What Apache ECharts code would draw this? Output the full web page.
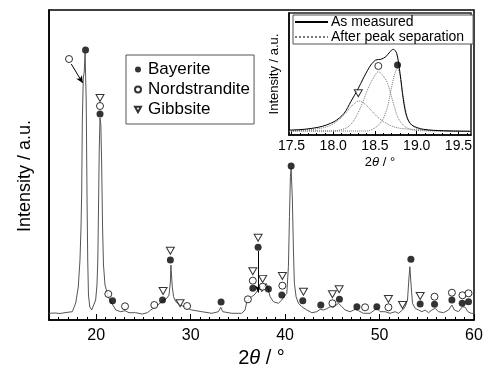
<!DOCTYPE html>
<html><head><meta charset="utf-8">
<script src="https://cdn.jsdelivr.net/npm/echarts@6/dist/echarts.min.js"></script>
<style>html,body{margin:0;padding:0;background:#fff}#c{width:500px;height:378px}</style>
</head><body><div id="c"></div>
<script>
// ---- main XRD pattern: [2theta, intensity (a.u.)]
const xrdPattern = [[15.00,67],[15.64,70],[16.17,65],[16.80,75],[17.22,80],[17.47,83],[17.83,170],[18.10,330],[18.28,600],[18.39,930],[18.46,1270],[18.53,2000],[18.63,2420],[18.73,2480],[18.82,2670],[18.94,2200],[19.03,1200],[19.10,600],[19.18,250],[19.32,130],[19.52,100],[19.71,120],[19.94,200],[20.08,350],[20.17,600],[20.24,1100],[20.32,1700],[20.40,2020],[20.49,1950],[20.57,1600],[20.67,930],[20.77,550],[20.93,350],[21.28,230],[21.64,170],[22.07,100],[22.60,83],[23.05,93],[23.47,73],[24.18,73],[24.88,60],[25.41,73],[25.77,100],[26.30,133],[26.94,183],[27.47,217],[27.71,250],[27.85,380],[27.91,550],[28.05,333],[28.19,233],[28.42,183],[28.88,150],[29.41,130],[30.12,100],[31.18,83],[32.24,67],[32.94,83],[33.19,127],[33.40,83],[34.35,67],[35.41,67],[35.76,100],[35.94,183],[36.22,217],[36.47,233],[36.72,250],[36.82,267],[36.98,280],[37.06,290],[37.16,270],[37.35,333],[37.51,280],[37.70,300],[37.99,367],[38.15,330],[38.41,233],[38.76,183],[39.29,167],[39.65,200],[39.89,233],[40.18,267],[40.35,533],[40.46,1033],[40.56,1433],[40.64,1517],[40.77,1200],[40.88,700],[40.98,367],[41.16,233],[41.41,167],[41.77,133],[42.30,100],[42.83,73],[43.36,83],[43.71,107],[44.06,100],[44.42,113],[44.77,133],[45.12,127],[45.65,167],[46.01,133],[46.36,100],[46.89,83],[47.42,107],[47.77,93],[48.29,67],[49.00,67],[49.71,117],[50.06,83],[50.59,83],[51.12,67],[51.65,83],[52.00,67],[52.43,100],[52.71,133],[52.96,200],[53.10,400],[53.21,533],[53.27,550],[53.35,333],[53.49,167],[53.77,117],[54.12,100],[54.48,83],[54.83,100],[55.18,73],[55.54,100],[55.89,117],[56.24,83],[56.77,73],[57.30,100],[57.66,150],[57.93,100],[58.36,83],[58.78,133],[59.07,127],[59.35,83],[59.70,67],[60.00,65]];

// ---- phase markers: [2theta, marker height]
const bayerite = [[18.87,2700],[20.40,2060],[21.73,193],[27.02,200],[27.85,600],[33.22,180],[36.58,317],[37.14,727],[38.23,310],[39.65,250],[40.64,1540],[41.87,193],[43.78,150],[45.75,207],[47.60,133],[49.71,133],[53.32,607],[54.30,160],[55.82,157],[57.66,200],[58.75,167],[59.42,183]];
const nordstrandite = [[17.12,2610],[20.40,2140],[21.28,260],[23.05,137],[26.15,150],[29.62,140],[36.06,207],[36.58,393],[37.62,333],[39.71,343],[45.01,167],[48.47,127],[50.94,127],[55.82,233],[57.66,273],[58.78,247],[59.42,267]];
const gibbsite = [[20.40,2220],[27.08,290],[27.85,692],[28.88,167],[36.58,487],[37.14,822],[37.62,411],[39.71,440],[41.94,283],[45.01,257],[45.72,307],[50.94,210],[52.43,150],[54.30,240]];
const pointerArrows = [[[17.36,2560],[18.57,2370]],[[37.14,690],[37.14,275]]];

// ---- inset (peak separation)
const insetMeasured = [[17.47,5],[17.50,5],[17.82,7.7],[18.01,13.3],[18.13,21.7],[18.21,33.3],[18.29,45],[18.37,58.3],[18.45,70],[18.51,75],[18.57,75.7],[18.63,78.3],[18.68,83.3],[18.72,85.7],[18.76,81.7],[18.80,61.7],[18.84,35],[18.88,18.3],[18.94,10],[19.08,5.7],[19.32,4.3],[19.65,3.7]];
const gibbsiteFit = [[17.47,4],[17.80,6],[17.95,9],[18.05,14],[18.15,22],[18.22,29],[18.31,34],[18.38,31],[18.45,25],[18.53,18],[18.61,13],[18.70,9],[18.80,6.7],[19.08,5],[19.35,4],[19.65,3.7]];
const nordstranditeFit = [[17.47,4],[18.00,4],[18.17,7.7],[18.25,15],[18.33,28],[18.41,45],[18.48,57],[18.54,63.3],[18.60,59],[18.65,51.7],[18.72,31.7],[18.78,16.7],[18.86,8.3],[18.99,4.5],[19.65,3.7]];
const bayeriteFit = [[17.47,4],[18.40,4],[18.51,7.7],[18.59,15],[18.65,28.3],[18.70,48.3],[18.74,62],[18.77,66.7],[18.80,60],[18.82,48.3],[18.86,28.3],[18.91,13.3],[19.00,6.7],[19.20,4.3],[19.65,3.7]];
const insetBayerite = [[18.77,70]];
const insetNordstrandite = [[18.54,69]];
const insetGibbsite = [[18.30,41.7]];

const mainTickLabels = [20,30,40,50,60];
const insetTickLabels = [17.5,18.0,18.5,19.0,19.5];
const insetMinorTicks = [17.5,17.6,17.7,17.8,17.9,18.0,18.1,18.2,18.3,18.4,18.5,18.6,18.7,18.8,18.9,19.0,19.1,19.2,19.3,19.4,19.5,19.6];

const FONT = 'Liberation Sans, Arial, sans-serif';
const DOWN_TRI = 'path://M0,0L10,0L5,9Z';
const chart = echarts.init(document.getElementById('c'), null, {renderer:'canvas'});

const filled = {color:'#000'};
const open = {color:'#fff', borderColor:'#000', borderWidth:1};

chart.setOption({
  animation:false,
  backgroundColor:'#fff',
  grid:[
    {left:49, top:10, width:425, height:310, show:true, borderColor:'#000', borderWidth:1.5, backgroundColor:'transparent'},
    {left:289, top:13, width:182, height:122, show:true, borderColor:'#222', borderWidth:1.5, backgroundColor:'#fff'}
  ],
  xAxis:[
    {gridIndex:0, type:'value', min:15, max:60, position:'bottom',
     axisLine:{show:true, onZero:false, lineStyle:{color:'#000', width:1.5}},
     axisTick:{show:true, inside:true, length:6, customValues:mainTickLabels, lineStyle:{color:'#000'}},
     axisLabel:{show:true, customValues:mainTickLabels, margin:8, color:'#000', fontSize:16, fontFamily:FONT},
     splitLine:{show:false},
     name:'{n|2}{i|θ}{n| / °}', nameLocation:'middle', nameGap:24,
     nameTextStyle:{rich:{n:{fontSize:20, fontFamily:FONT, color:'#000'}, i:{fontSize:20, fontFamily:FONT, fontStyle:'italic', color:'#000'}}}},
    {gridIndex:0, type:'value', min:15, max:60, interval:1, position:'bottom',
     axisLine:{show:false}, axisLabel:{show:false}, splitLine:{show:false},
     axisTick:{show:true, inside:true, length:3, lineStyle:{color:'#000'}}},
    {gridIndex:1, type:'value', min:17.47, max:19.65, position:'bottom',
     axisLine:{show:true, onZero:false, lineStyle:{color:'#000', width:1.5}},
     axisTick:{show:true, inside:true, length:4, customValues:insetTickLabels, lineStyle:{color:'#000'}},
     axisLabel:{show:true, customValues:insetTickLabels, margin:4, color:'#000', fontSize:14, fontFamily:FONT,
       formatter:v=>v.toFixed(1)},
     splitLine:{show:false},
     name:'{n|2}{i|θ}{n| / °}', nameLocation:'middle', nameGap:21,
     nameTextStyle:{rich:{n:{fontSize:13, fontFamily:FONT, color:'#000'}, i:{fontSize:13, fontFamily:FONT, fontStyle:'italic', color:'#000'}}}},
    {gridIndex:1, type:'value', min:17.47, max:19.65, position:'bottom',
     axisLine:{show:false}, axisLabel:{show:false}, splitLine:{show:false},
     axisTick:{show:true, inside:true, length:2, customValues:insetMinorTicks, lineStyle:{color:'#000'}}}
  ],
  yAxis:[
    {gridIndex:0, type:'value', min:0, max:3100,
     axisLine:{show:true, onZero:false, lineStyle:{color:'#000', width:1.5}},
     axisTick:{show:false}, axisLabel:{show:false}, splitLine:{show:false}},
    {gridIndex:1, type:'value', min:0, max:122,
     axisLine:{show:true, onZero:false, lineStyle:{color:'#000', width:1.5}},
     axisTick:{show:false}, axisLabel:{show:false}, splitLine:{show:false},
     name:'Intensity / a.u.', nameLocation:'middle', nameGap:8,
     nameTextStyle:{fontSize:13, fontFamily:FONT, color:'#000'}}
  ],
  legend:[
    {left:126, top:55, orient:'vertical', itemWidth:6, itemHeight:6, itemGap:3,
     padding:[6,4,6,8], borderColor:'#555', borderWidth:1, backgroundColor:'#fff',
     textStyle:{fontSize:17, fontFamily:FONT, color:'#000', padding:[0,0,0,2]},
     data:['Bayerite','Nordstrandite','Gibbsite']},
    {left:293, top:15, orient:'vertical', itemWidth:33, itemHeight:10, itemGap:1,
     padding:[0,9,0,1], borderColor:'#555', borderWidth:1, backgroundColor:'#fff',
     itemStyle:{color:'transparent', borderColor:'transparent', borderWidth:0},
     textStyle:{fontSize:14, fontFamily:FONT, color:'#000', padding:[0,0,0,-2]},
     data:['As measured','After peak separation']}
  ],
  graphic:[
    {type:'text', x:25, y:176, rotation:Math.PI/2,
     style:{text:'Intensity / a.u.', font:'18px '+FONT, fill:'#000', textAlign:'center', textVerticalAlign:'middle'}}
  ],
  series:[
    {name:'pattern', type:'line', xAxisIndex:0, yAxisIndex:0, data:xrdPattern, symbol:'none',
     color:'#555', lineStyle:{color:'#555', width:1}, z:2,
     markLine:{silent:true, symbol:['none','arrow'], symbolSize:[5,7], label:{show:false},
       lineStyle:{color:'#000', width:1, type:'solid'},
       data:pointerArrows.map(a=>[{coord:a[0]},{coord:a[1]}])}},
    {name:'Bayerite', type:'scatter', xAxisIndex:0, yAxisIndex:0, data:bayerite, symbol:'circle', symbolSize:7, itemStyle:filled, z:5},
    {name:'Nordstrandite', type:'scatter', xAxisIndex:0, yAxisIndex:0, data:nordstrandite, symbol:'circle', symbolSize:7, itemStyle:open, z:5},
    {name:'Gibbsite', type:'scatter', xAxisIndex:0, yAxisIndex:0, data:gibbsite, symbol:DOWN_TRI, symbolSize:[8,7], itemStyle:open, z:5},
    {name:'As measured', type:'line', xAxisIndex:2, yAxisIndex:1, data:insetMeasured, symbol:'none', smooth:0.3,
     color:'#000', lineStyle:{color:'#000', width:1}, z:4},
    {name:'After peak separation', type:'line', xAxisIndex:2, yAxisIndex:1, data:gibbsiteFit, symbol:'none', smooth:0.3,
     color:'#777', lineStyle:{color:'#777', width:1, type:'dotted'}, z:3},
    {name:'After peak separation', type:'line', xAxisIndex:2, yAxisIndex:1, data:nordstranditeFit, symbol:'none', smooth:0.3,
     color:'#777', lineStyle:{color:'#777', width:1, type:'dotted'}, z:3},
    {name:'After peak separation', type:'line', xAxisIndex:2, yAxisIndex:1, data:bayeriteFit, symbol:'none', smooth:0.3,
     color:'#777', lineStyle:{color:'#777', width:1, type:'dotted'}, z:3},
    {name:'insetB', type:'scatter', xAxisIndex:2, yAxisIndex:1, data:insetBayerite, symbol:'circle', symbolSize:7, itemStyle:filled, z:6},
    {name:'insetN', type:'scatter', xAxisIndex:2, yAxisIndex:1, data:insetNordstrandite, symbol:'circle', symbolSize:7, itemStyle:open, z:6},
    {name:'insetG', type:'scatter', xAxisIndex:2, yAxisIndex:1, data:insetGibbsite, symbol:DOWN_TRI, symbolSize:[8,7], itemStyle:open, z:6}
  ]
});
</script></body></html>
